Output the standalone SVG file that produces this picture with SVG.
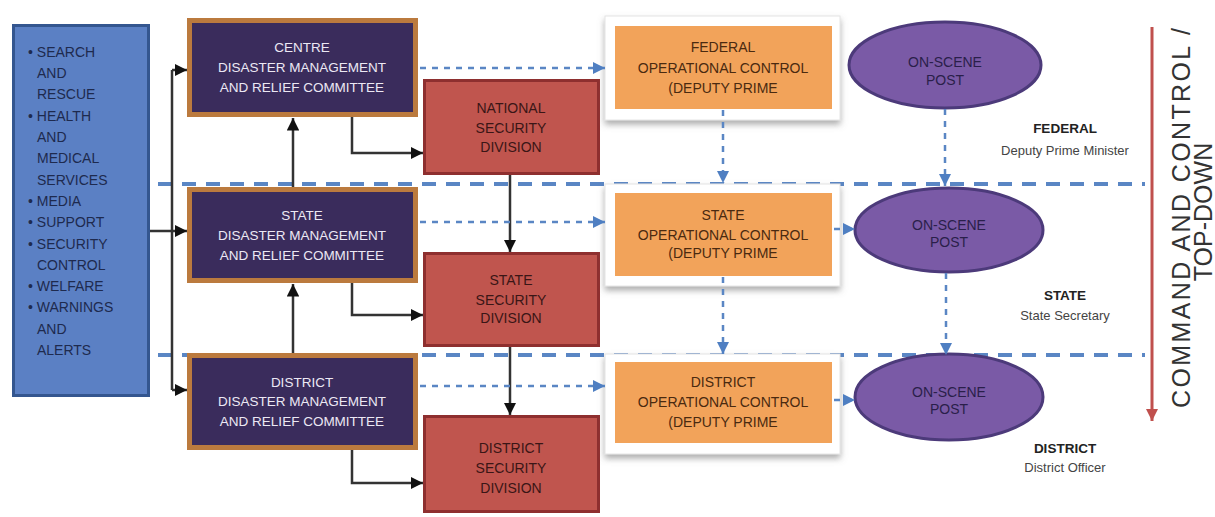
<svg xmlns="http://www.w3.org/2000/svg" width="1215" height="517" viewBox="0 0 1215 517">
<style>
text{font-family:"Liberation Sans",Arial,sans-serif}
.list{font-size:14px;fill:#1e2a4e}
.cm{font-size:13.5px;fill:#ece8f4;text-anchor:middle}
.sec{font-size:14px;fill:#3a1616;text-anchor:middle}
.op{font-size:14px;fill:#4a2a10;text-anchor:middle}
.el{font-size:14px;fill:#2a1f4a;text-anchor:middle}
.lvb{font-size:13.5px;font-weight:bold;fill:#222;text-anchor:middle}
.lv{font-size:13px;fill:#444;text-anchor:middle}
.big{font-size:25px;fill:#333;text-anchor:middle}
.cmbox{fill:#3a2c5c;stroke:#bb7a3e;stroke-width:5}
.secbox{fill:#c0554e;stroke:#8e2f2f;stroke-width:3}
.frame{fill:#fff;stroke:#e4e4e4;stroke-width:1}
.opbox{fill:#f2a35a}
.ell{fill:#7a5aa6;stroke:#4c3a7a;stroke-width:3}
.blk{fill:none;stroke:#333;stroke-width:2.5}
.bd{fill:none;stroke:#5a86c4;stroke-width:2.5;stroke-dasharray:6 6}
.sep{fill:none;stroke:#5a86c4;stroke-width:4;stroke-dasharray:14 10}
</style>
<defs>
<marker id="ab" viewBox="0 0 10 10" refX="10" refY="5" markerWidth="5" markerHeight="5" orient="auto" markerUnits="strokeWidth"><path d="M0,0 L10,5 L0,10 z" fill="#111"/></marker>
<marker id="au" viewBox="0 0 10 10" refX="10" refY="5" markerWidth="5" markerHeight="5" orient="auto" markerUnits="strokeWidth"><path d="M0,0 L10,5 L0,10 z" fill="#4f7fc2"/></marker>
<marker id="ar" viewBox="0 0 10 10" refX="10" refY="5" markerWidth="4" markerHeight="4" orient="auto" markerUnits="strokeWidth"><path d="M0,0 L10,5 L0,10 z" fill="#c0504d"/></marker>
<filter id="sh" x="-10%" y="-10%" width="130%" height="140%"><feDropShadow dx="0" dy="4" stdDeviation="3" flood-color="#777" flood-opacity="0.6"/></filter>
</defs>

<g id="separators">
<line class="sep" x1="158" y1="184" x2="1145" y2="184"/>
<line class="sep" x1="158" y1="355" x2="1145" y2="355"/>
</g>

<g id="functions">
<rect x="13.5" y="25.5" width="135" height="370" fill="#5b80c4" stroke="#34568f" stroke-width="3"/>
<text class="list">
<tspan x="28" y="57">• SEARCH</tspan>
<tspan x="37" y="78">AND</tspan>
<tspan x="37" y="99">RESCUE</tspan>
<tspan x="28" y="121">• HEALTH</tspan>
<tspan x="37" y="142">AND</tspan>
<tspan x="37" y="163">MEDICAL</tspan>
<tspan x="37" y="185">SERVICES</tspan>
<tspan x="28" y="206">• MEDIA</tspan>
<tspan x="28" y="227">• SUPPORT</tspan>
<tspan x="28" y="249">• SECURITY</tspan>
<tspan x="37" y="270">CONTROL</tspan>
<tspan x="28" y="291">• WELFARE</tspan>
<tspan x="28" y="312">• WARNINGS</tspan>
<tspan x="37" y="334">AND</tspan>
<tspan x="37" y="355">ALERTS</tspan>
</text>
</g>

<g id="centre-committee">
<rect class="cmbox" x="189.5" y="20.5" width="226" height="94"/>
<text class="cm"><tspan x="302" y="52">CENTRE</tspan><tspan x="302" y="72">DISASTER MANAGEMENT</tspan><tspan x="302" y="92">AND RELIEF COMMITTEE</tspan></text>
</g>
<g id="state-committee">
<rect class="cmbox" x="189.5" y="189.5" width="226" height="91"/>
<text class="cm"><tspan x="302" y="220">STATE</tspan><tspan x="302" y="240">DISASTER MANAGEMENT</tspan><tspan x="302" y="260">AND RELIEF COMMITTEE</tspan></text>
</g>
<g id="district-committee">
<rect class="cmbox" x="189.5" y="355.5" width="226" height="92"/>
<text class="cm"><tspan x="302" y="387">DISTRICT</tspan><tspan x="302" y="406">DISASTER MANAGEMENT</tspan><tspan x="302" y="426">AND RELIEF COMMITTEE</tspan></text>
</g>

<g id="national-security">
<rect class="secbox" x="424.5" y="80.5" width="174" height="93"/>
<text class="sec"><tspan x="511" y="113">NATIONAL</tspan><tspan x="511" y="133">SECURITY</tspan><tspan x="511" y="152">DIVISION</tspan></text>
</g>
<g id="state-security">
<rect class="secbox" x="424.5" y="253.5" width="174" height="92"/>
<text class="sec"><tspan x="511" y="285">STATE</tspan><tspan x="511" y="305">SECURITY</tspan><tspan x="511" y="323">DIVISION</tspan></text>
</g>
<g id="district-security">
<rect class="secbox" x="424.5" y="416.5" width="174" height="95"/>
<text class="sec"><tspan x="511" y="453">DISTRICT</tspan><tspan x="511" y="473">SECURITY</tspan><tspan x="511" y="493">DIVISION</tspan></text>
</g>

<g id="federal-op">
<rect class="frame" x="605" y="16" width="235" height="104" filter="url(#sh)"/>
<rect class="opbox" x="615" y="26" width="217" height="83"/>
<text class="op"><tspan x="723" y="52">FEDERAL</tspan><tspan x="723" y="73">OPERATIONAL CONTROL</tspan><tspan x="723" y="93">(DEPUTY PRIME</tspan></text>
</g>
<g id="state-op">
<rect class="frame" x="605" y="184" width="235" height="102" filter="url(#sh)"/>
<rect class="opbox" x="615" y="193" width="217" height="83"/>
<text class="op"><tspan x="723" y="220">STATE</tspan><tspan x="723" y="240">OPERATIONAL CONTROL</tspan><tspan x="723" y="258">(DEPUTY PRIME</tspan></text>
</g>
<g id="district-op">
<rect class="frame" x="605" y="354" width="235" height="100" filter="url(#sh)"/>
<rect class="opbox" x="615" y="362" width="217" height="81"/>
<text class="op"><tspan x="723" y="387">DISTRICT</tspan><tspan x="723" y="407">OPERATIONAL CONTROL</tspan><tspan x="723" y="427">(DEPUTY PRIME</tspan></text>
</g>

<g id="federal-post">
<ellipse class="ell" cx="945" cy="65" rx="96" ry="43"/>
<text class="el"><tspan x="945" y="67">ON-SCENE</tspan><tspan x="945" y="85">POST</tspan></text>
</g>
<g id="state-post">
<ellipse class="ell" cx="949" cy="230" rx="94" ry="42"/>
<text class="el"><tspan x="949" y="230">ON-SCENE</tspan><tspan x="949" y="247">POST</tspan></text>
</g>
<g id="district-post">
<ellipse class="ell" cx="949" cy="397" rx="94" ry="43"/>
<text class="el"><tspan x="949" y="397">ON-SCENE</tspan><tspan x="949" y="414">POST</tspan></text>
</g>

<g id="level-labels">
<text class="lvb" x="1065" y="133">FEDERAL</text>
<text class="lv" x="1065" y="155">Deputy Prime Minister</text>
<text class="lvb" x="1065" y="300">STATE</text>
<text class="lv" x="1065" y="320">State Secretary</text>
<text class="lvb" x="1065" y="453">DISTRICT</text>
<text class="lv" x="1065" y="472">District Officer</text>
</g>

<g id="command-axis">
<line x1="1152" y1="27" x2="1152" y2="421" stroke="#c0504d" stroke-width="3" marker-end="url(#ar)"/>
<text class="big" transform="translate(1190,218) rotate(-90)" x="0" y="0" textLength="380" lengthAdjust="spacing">COMMAND AND CONTROL /</text>
<text class="big" transform="translate(1212,212) rotate(-90)" x="0" y="0">TOP-DOWN</text>
</g>

<g id="connectors">
<path class="blk" d="M172,70 V390"/>
<path class="blk" d="M172,70 H187" marker-end="url(#ab)"/>
<path class="blk" d="M150,231 H187" marker-end="url(#ab)"/>
<path class="blk" d="M172,390 H187" marker-end="url(#ab)"/>
<path class="blk" d="M293,187 V118" marker-end="url(#ab)"/>
<path class="blk" d="M293,353 V284" marker-end="url(#ab)"/>
<path class="blk" d="M352,117 V153 H423" marker-end="url(#ab)"/>
<path class="blk" d="M352,283 V315 H423" marker-end="url(#ab)"/>
<path class="blk" d="M352,450 V483 H423" marker-end="url(#ab)"/>
<path class="blk" d="M510,175 V252" marker-end="url(#ab)"/>
<path class="blk" d="M510,347 V415" marker-end="url(#ab)"/>
<path class="bd" d="M420,68 H605" marker-end="url(#au)"/>
<path class="bd" d="M420,222 H605" marker-end="url(#au)"/>
<path class="bd" d="M420,386 H605" marker-end="url(#au)"/>
<path class="bd" d="M834,229 H855" marker-end="url(#au)"/>
<path class="bd" d="M834,400 H855" marker-end="url(#au)"/>
<path class="bd" d="M723,110 V183" marker-end="url(#au)"/>
<path class="bd" d="M723,277 V354" marker-end="url(#au)"/>
<path class="bd" d="M945,109 V186" marker-end="url(#au)"/>
<path class="bd" d="M946,273 V355" marker-end="url(#au)"/>
</g>
</svg>
